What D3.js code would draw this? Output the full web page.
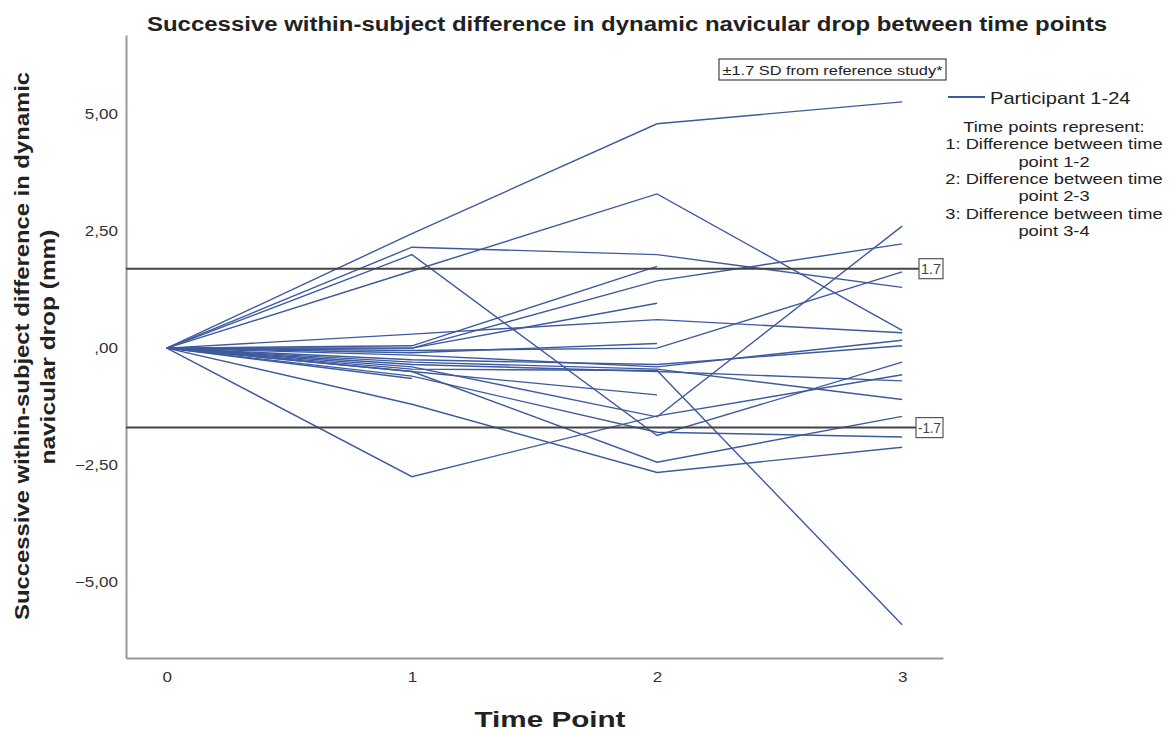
<!DOCTYPE html>
<html>
<head>
<meta charset="utf-8">
<script src="https://cdn.jsdelivr.net/npm/d3@7"></script>
<style>
  body { margin: 0; background: #fff; }
  text { font-family: "Liberation Sans", Arial, sans-serif; }
</style>
</head>
<body>
<svg id="chart" width="1169" height="733"></svg>
<script>
// time points on the x axis
const timePoints = [0, 1, 2, 3]
const yTicks = [-5, -2.5, 0, 2.5, 5]
const refValues = [1.7, -1.7]

// one array per participant, value at time point 0..3 (null = missing)
const p01 = [0, 2.45, 4.8, 5.27]
const p02 = [0, 1.65, 3.3, 0.38]
const p03 = [0, 2.16, 2.0, 1.3]
const p04 = [0, 2.0, -1.87, -0.3]
const p05 = [0, -2.75, -1.45, -0.57]
const p06 = [0, -1.2, -2.66, -2.12]
const p07 = [0, -0.5, -2.44, -1.46]
const p08 = [0, -0.45, -0.48, -5.92]
const p09 = [0, 0.0, 1.44, 2.23]
const p10 = [0, 0.3, 0.61, 0.33]
const p11 = [0, -0.05, 0.0, 1.63]
const p12 = [0, 0.05, 1.75, null]
const p13 = [0, 0.0, 0.96, null]
const p14 = [0, -0.1, 0.1, null]
const p15 = [0, -0.5, -1.0, null]
const p16 = [0, -0.15, -0.4, 0.17]
const p17 = [0, -0.25, -0.35, 0.05]
const p18 = [0, -0.3, -0.45, -1.1]
const p19 = [0, -0.35, -0.5, -0.7]
const p20 = [0, -0.4, -1.47, 2.61]
const p21 = [0, -0.6, -1.8, -1.9]
const p22 = [0, -0.65, null, null]
const participants = [p01, p02, p03, p04, p05, p06, p07, p08, p09, p10, p11,
  p12, p13, p14, p15, p16, p17, p18, p19, p20, p21, p22]

const legendLines = [
  'Time points represent:',
  '1: Difference between time',
  'point 1-2',
  '2: Difference between time',
  'point 2-3',
  '3: Difference between time',
  'point 3-4'
]

const svg = d3.select('#chart')
const lineColor = '#3d5a9e'

const x = d3.scaleLinear().domain([-1 / 6, 3 + 1 / 6]).range([126, 943])
const y = d3.scaleLinear().domain([-6.63, 6.7]).range([658, 35])

const fmt = v => d3.format('.2f')(v).replace('.', ',').replace(/^(-?)0,/, '$1,')

// the reference's text is drawn a bit wider than the font, so stretch it
const stretch = (sel, f) => sel.each(function () {
  const w = this.getComputedTextLength()
  d3.select(this).attr('textLength', w * f).attr('lengthAdjust', 'spacingAndGlyphs')
})

// title
svg.append('text')
  .attr('x', 627).attr('y', 31)
  .attr('text-anchor', 'middle')
  .style('font-size', '20px').style('font-weight', 'bold').style('fill', '#222')
  .text('Successive within-subject difference in dynamic navicular drop between time points')
  .attr('textLength', 960).attr('lengthAdjust', 'spacingAndGlyphs')

// axes (no tick marks, SPSS style)
const yAxis = svg.append('g').attr('transform', `translate(${x.range()[0]},0)`)
  .call(d3.axisLeft(y).tickValues(yTicks).tickSize(0).tickPadding(8).tickFormat(fmt))
const xAxis = svg.append('g').attr('transform', `translate(0,${y.range()[0]})`)
  .call(d3.axisBottom(x).tickValues(timePoints).tickSize(0).tickPadding(14).tickFormat(d3.format('d')))

;[yAxis, xAxis].forEach(g => {
  g.select('.domain').attr('stroke', '#999').attr('stroke-width', 2)
  g.selectAll('text').style('font-size', '14px').style('fill', '#333')
    .style('font-family', '"Liberation Sans", Arial, sans-serif')
    .call(stretch, 1.22)
})

// axis titles
svg.append('text')
  .attr('transform', 'translate(29,346) rotate(-90)')
  .attr('text-anchor', 'middle')
  .style('font-size', '21px').style('font-weight', 'bold').style('fill', '#222')
  .text('Successive within-subject difference in dynamic')
  .attr('textLength', 548).attr('lengthAdjust', 'spacingAndGlyphs')
svg.append('text')
  .attr('transform', 'translate(55,347) rotate(-90)')
  .attr('text-anchor', 'middle')
  .style('font-size', '21px').style('font-weight', 'bold').style('fill', '#222')
  .text('navicular drop (mm)')
  .attr('textLength', 235).attr('lengthAdjust', 'spacingAndGlyphs')
svg.append('text')
  .attr('x', 550).attr('y', 727)
  .attr('text-anchor', 'middle')
  .style('font-size', '22px').style('font-weight', 'bold').style('fill', '#222')
  .text('Time Point')
  .attr('textLength', 151).attr('lengthAdjust', 'spacingAndGlyphs')

// participant lines
const line = d3.line()
  .defined(d => d !== null)
  .x((d, i) => x(timePoints[i]))
  .y(d => y(d))

svg.append('g').selectAll('path')
  .data(participants)
  .join('path')
  .attr('d', line)
  .attr('fill', 'none')
  .attr('stroke', lineColor)
  .attr('stroke-width', 1.4)

// reference lines with labels
refValues.forEach(v => {
  svg.append('line')
    .attr('x1', x.range()[0]).attr('x2', 920)
    .attr('y1', y(v)).attr('y2', y(v))
    .attr('stroke', '#444').attr('stroke-width', 2)
  const w = v < 0 ? 27 : 24
  svg.append('rect')
    .attr('x', 943 - w).attr('y', y(v) - 10)
    .attr('width', w).attr('height', 20)
    .attr('fill', '#fff').attr('stroke', '#555').attr('stroke-width', 1.2)
  svg.append('text')
    .attr('x', 943 - w / 2).attr('y', y(v) + 5)
    .attr('text-anchor', 'middle')
    .style('font-size', '14px').style('fill', '#444')
    .text(String(v))
    .attr('textLength', w - 4).attr('lengthAdjust', 'spacingAndGlyphs')
})

// annotation box
svg.append('rect')
  .attr('x', 719).attr('y', 59).attr('width', 227).attr('height', 21)
  .attr('fill', '#fff').attr('stroke', '#444').attr('stroke-width', 1.2)
svg.append('text')
  .attr('x', 832.5).attr('y', 75)
  .attr('text-anchor', 'middle')
  .style('font-size', '13px').style('fill', '#222')
  .text('±1.7 SD from reference study*')
  .attr('textLength', 220).attr('lengthAdjust', 'spacingAndGlyphs')

// legend
svg.append('line')
  .attr('x1', 948).attr('x2', 985).attr('y1', 97).attr('y2', 97)
  .attr('stroke', lineColor).attr('stroke-width', 2)
svg.append('text')
  .attr('x', 990).attr('y', 104)
  .style('font-size', '17px').style('fill', '#222')
  .text('Participant 1-24')
  .call(stretch, 1.18)

svg.append('g').selectAll('text')
  .data(legendLines)
  .join('text')
  .attr('x', 1054)
  .attr('y', (d, i) => 132 + i * 17.3)
  .attr('text-anchor', 'middle')
  .style('font-size', '15px').style('fill', '#222')
  .text(d => d)
  .call(stretch, 1.22)
</script>
</body>
</html>
